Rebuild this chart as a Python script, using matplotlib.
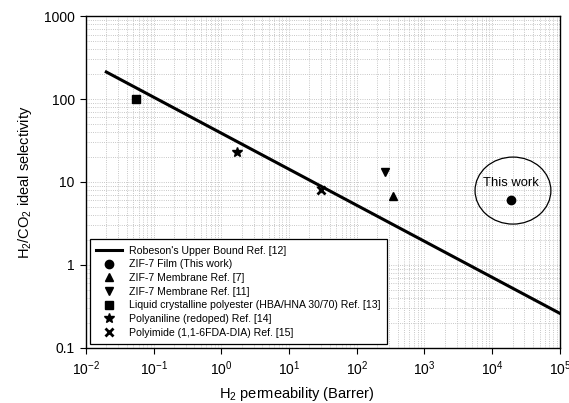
import numpy as np
import matplotlib
matplotlib.use('Agg')
import matplotlib.pyplot as plt
from matplotlib.patches import Ellipse
from matplotlib.ticker import LogLocator, FuncFormatter, NullFormatter

plt.rcParams['font.family'] = ['Liberation Sans', 'DejaVu Sans']
plt.rcParams['mathtext.fontset'] = 'custom'
plt.rcParams['mathtext.rm'] = 'Liberation Sans'
plt.rcParams['mathtext.it'] = 'Liberation Sans'
plt.rcParams['mathtext.default'] = 'regular'

# Robeson upper bound end points (H2/CO2)
robeson_p = [0.02, 1e5]
robeson_a = [212., 0.26]

# data points: permeability (Barrer), selectivity
zif7_film = ([19000.], [6.0])
zif7_ref7 = ([340.], [6.7])
zif7_ref11 = ([258.], [13.1])
lcp_ref13 = ([0.054], [100.])
pani_ref14 = ([1.7], [23.])
pi_ref15 = ([29.5], [7.9])

labels = ["Robeson's Upper Bound Ref. [12]",
          'ZIF-7 Film (This work)',
          'ZIF-7 Membrane Ref. [7]',
          'ZIF-7 Membrane Ref. [11]',
          'Liquid crystalline polyester (HBA/HNA 30/70) Ref. [13]',
          'Polyaniline (redoped) Ref. [14]',
          'Polyimide (1,1-6FDA-DIA) Ref. [15]']

fig = plt.figure(figsize=(5.69, 4.03), dpi=100)
ax = fig.add_axes([0.151, 0.137, 0.833, 0.823])

ax.plot(robeson_p, robeson_a, color='k', lw=2.2, label=labels[0], zorder=3)
ax.plot(*zif7_film, 'o', color='k', ms=6, ls='none', label=labels[1], zorder=4)
ax.plot(*zif7_ref7, '^', color='k', ms=6, ls='none', label=labels[2], zorder=4)
ax.plot(*zif7_ref11, 'v', color='k', ms=6, ls='none', label=labels[3], zorder=4)
ax.plot(*lcp_ref13, 's', color='k', ms=6, ls='none', label=labels[4], zorder=4)
ax.plot(*pani_ref14, '*', color='k', ms=7, ls='none', label=labels[5], zorder=4)
ax.plot(*pi_ref15, 'x', color='k', ms=5.5, mew=2, ls='none', label=labels[6], zorder=4)

# "This work" circle
ell = Ellipse((0.901, 0.474), 0.160, 0.202, transform=ax.transAxes,
              fill=False, edgecolor='k', lw=0.9, zorder=3)
ax.add_patch(ell)
ax.text(19000, 9.6, 'This work', ha='center', va='center', fontsize=9.4, zorder=5)

ax.set_xscale('log')
ax.set_yscale('log')
ax.set_xlim(1e-2, 1e5)
ax.set_ylim(0.1, 1000)

ax.xaxis.set_major_locator(LogLocator(base=10, numticks=20))
ax.xaxis.set_minor_locator(LogLocator(base=10, subs=np.arange(2, 10), numticks=20))
ax.yaxis.set_major_locator(LogLocator(base=10, numticks=20))
ax.yaxis.set_minor_locator(LogLocator(base=10, subs=np.arange(2, 10), numticks=20))
ax.yaxis.set_major_formatter(FuncFormatter(lambda v, p: '%g' % v))
ax.xaxis.set_minor_formatter(NullFormatter())
ax.yaxis.set_minor_formatter(NullFormatter())

ax.tick_params(which='major', direction='out', length=4.5, width=0.8, labelsize=10)
ax.tick_params(axis='x', which='major', pad=3.5)
ax.tick_params(which='minor', length=0)
ax.grid(True, which='both', ls=':', color='#b5b5b5', lw=0.6, zorder=0)
ax.set_axisbelow(True)
for s in ax.spines.values():
    s.set_linewidth(1.0)

ax.set_xlabel('H$_2$ permeability (Barrer)', fontsize=10.5)
ax.xaxis.set_label_coords(0.445, -0.112)
ax.set_ylabel('H$_2$/CO$_2$ ideal selectivity', fontsize=10.5, labelpad=7)

leg = ax.legend(loc='lower left', fontsize=7.6, frameon=True, fancybox=False,
                edgecolor='k', framealpha=1, handlelength=2.5, handletextpad=0.6,
                borderaxespad=0.35, labelspacing=0.35, borderpad=0.6)
leg.get_frame().set_linewidth(0.9)

fig.savefig('out.png', dpi=100)
